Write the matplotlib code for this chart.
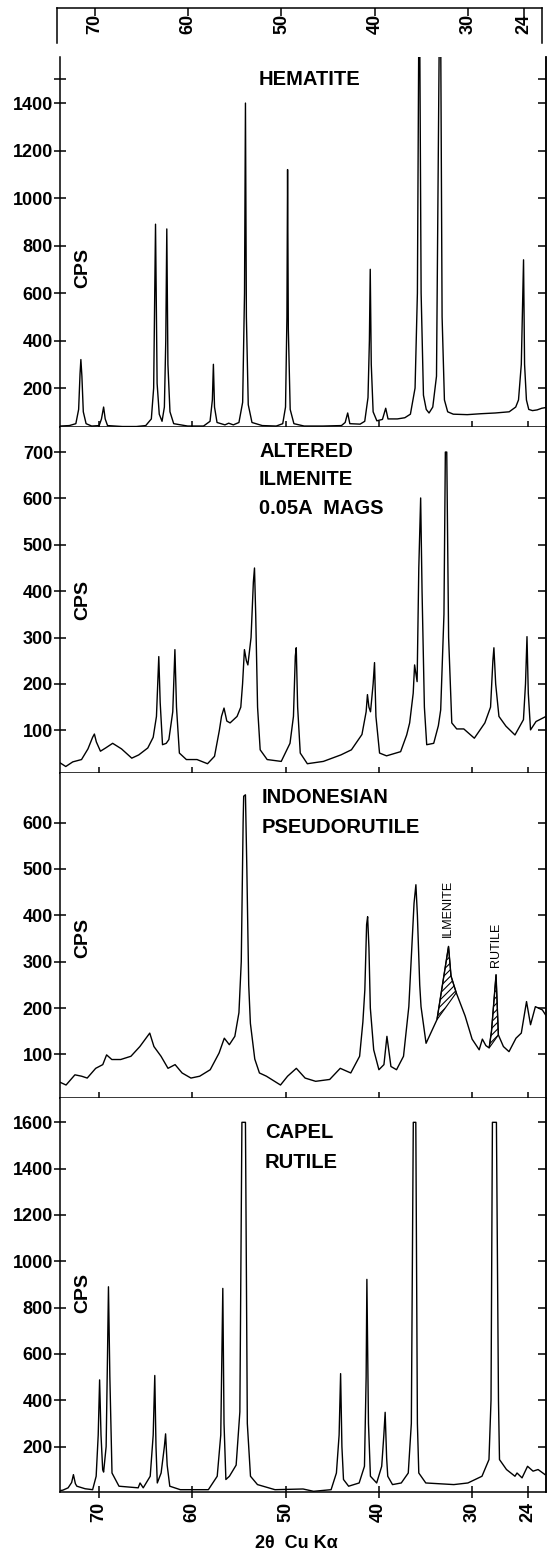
import matplotlib
matplotlib.use('Agg')
import matplotlib.pyplot as plt
import numpy as np

plt.rcParams['font.family'] = ['Liberation Sans', 'DejaVu Sans']
plt.rcParams['font.weight'] = 'bold'
plt.rcParams['hatch.linewidth'] = 0.8

# ---------------- data (2-theta, CPS) ----------------
hem_2theta = [74.2, 73.2, 72.5, 72.2, 72.05, 71.96, 71.85, 71.7, 71.4, 70.8, 70.0, 69.75, 69.52, 69.35, 69.1,
              67.5, 66.0, 65.0, 64.4, 64.15, 63.95, 63.78, 63.55, 63.25, 63.0, 62.85, 62.74, 62.62, 62.4, 62.0,
              60.5, 58.8, 58.1, 57.85, 57.74, 57.62, 57.35, 56.5, 56.1, 55.6, 55.0, 54.6, 54.4, 54.3, 54.2,
              54.0, 53.6, 52.5, 51.0, 50.3, 50.0, 49.85, 49.78, 49.7, 49.5, 49.1, 48.0, 46.0, 44.0, 43.6,
              43.33, 43.1, 42.0, 41.5, 41.15, 41.0, 40.91, 40.8, 40.6, 40.2, 39.6, 39.25, 39.0, 38.0, 37.2,
              36.6, 36.1, 35.85, 35.7, 35.6, 35.45, 35.2, 34.9, 34.6, 34.2, 33.8, 33.5, 33.35, 33.2, 32.95,
              32.6, 32.0, 30.5, 29.0, 27.5, 26.0, 25.3, 25.0, 24.7, 24.46, 24.35, 24.15, 23.9, 23.5, 23.0,
              22.5, 22.05]
hem_cps = [40, 42, 50, 110, 260, 320, 250, 100, 50, 40, 42, 70, 120, 70, 42,
           38, 38, 42, 70, 200, 890, 220, 90, 60, 120, 400, 870, 300, 100, 50,
           40, 40, 60, 150, 300, 120, 55, 45, 52, 45, 55, 140, 600, 1400, 500,
           130, 55, 42, 40, 50, 120, 500, 1120, 450, 110, 50, 40, 40, 42, 55,
           95, 50, 48, 60, 160, 400, 700, 300, 100, 62, 68, 115, 70, 70, 75,
           90, 200, 600, 1700, 1700, 600, 170, 110, 95, 120, 250, 1700, 1700, 500, 150,
           100, 90, 88, 92, 95, 100, 120, 150, 300, 740, 300, 150, 110, 105, 108,
           115, 118]

alt_2theta = [74.2, 73.58, 72.83, 71.89, 71.2, 70.7, 70.51, 70.3, 69.86, 69.3, 68.55, 67.6, 66.5, 65.75,
              64.78, 64.2, 63.85, 63.6, 63.45, 63.2, 62.8, 62.52, 62.1, 61.87, 61.7, 61.39, 60.64, 59.5,
              58.37, 57.62, 57.1, 56.87, 56.6, 56.3, 55.95, 55.2, 54.8, 54.61, 54.41, 54.2, 54.04, 53.7,
              53.45, 53.33, 53.2, 53.0, 52.72, 51.97, 50.46, 49.52, 49.15, 48.95, 48.85, 48.7, 48.42,
              47.66, 45.94, 44.06, 42.93, 41.8, 41.35, 41.21, 41.05, 40.88, 40.6, 40.45, 40.3, 39.91,
              39.16, 37.65, 37.0, 36.68, 36.3, 36.15, 35.88, 35.7, 35.5, 35.35, 35.1, 34.85, 34.1, 33.6,
              33.35, 33.0, 32.85, 32.7, 32.5, 32.16, 31.63, 30.87, 29.74, 28.61, 28.0, 27.75, 27.64,
              27.45, 27.1, 26.35, 25.38, 24.47, 24.25, 24.09, 23.95, 23.71, 23.12, 22.05]
alt_cps = [30, 22, 32, 37, 60, 85, 92, 75, 55, 62, 72, 60, 40, 47,
           62, 85, 130, 259, 160, 69, 72, 80, 140, 274, 150, 51, 37, 37,
           28, 44, 100, 130, 148, 120, 116, 130, 150, 200, 274, 250, 241, 300,
           420, 450, 350, 150, 58, 37, 33, 72, 130, 260, 278, 150, 51,
           28, 33, 47, 58, 91, 140, 177, 150, 140, 200, 246, 130, 51,
           45, 54, 90, 116, 180, 241, 205, 450, 601, 400, 150, 69, 72, 110,
           144, 350, 700, 700, 300, 116, 103, 103, 83, 116, 150, 250, 278,
           200, 130, 109, 90, 123, 200, 302, 180, 101, 119, 130]

ind_2theta = [74.2, 73.55, 72.6, 71.88, 71.28, 70.37, 69.61, 69.2, 68.64, 67.69, 66.59, 65.63, 64.57,
              64.12, 63.36, 62.61, 61.85, 61.1, 60.15, 59.21, 58.08, 57.13, 56.57, 56.03, 55.44, 55.0,
              54.75, 54.55, 54.49, 54.3, 54.15, 53.95, 53.77, 53.3, 52.8, 52.05, 50.54, 49.78, 48.84,
              47.9, 46.77, 45.26, 44.13, 43.0, 42.05, 41.7, 41.49, 41.3, 41.19, 41.05, 40.9, 40.54,
              39.98, 39.44, 39.12, 38.69, 38.09, 37.34, 36.77, 36.4, 36.21, 36.01, 35.85, 35.6, 35.46,
              34.92, 33.75, 32.51, 32.24, 31.68, 30.73, 29.98, 29.22, 28.88, 28.5, 28.15, 27.9, 27.41,
              27.16, 26.62, 26.02, 25.27, 24.7, 24.14, 23.71, 23.19, 22.44, 22.09]
ind_cps = [40, 34, 56, 53, 49, 70, 78, 99, 89, 89, 96, 117, 146,
           117, 96, 70, 78, 60, 49, 53, 67, 103, 135, 121, 139, 190,
           300, 600, 657, 660, 500, 250, 167, 90, 60, 53, 34, 53, 70,
           49, 42, 46, 70, 60, 96, 170, 239, 380, 397, 330, 200, 110,
           67, 78, 139, 74, 67, 96, 203, 350, 426, 466, 400, 250, 203,
           124, 175, 333, 269, 233, 183, 133, 110, 133, 119, 114, 150, 272,
           142, 117, 106, 135, 146, 214, 164, 203, 196, 185]

# hatched regions (2-theta ranges) on the pseudorutile pattern
hatch_ranges = [(33.75, 31.68), (28.15, 27.16)]
hatch_names = ['ILMENITE', 'RUTILE']
hatch_label_pos = [(32.55, 353), (27.42, 289)]

cap_2theta = [74.2, 73.89, 73.33, 72.95, 72.76, 72.55, 72.39, 71.5, 70.7, 70.32, 70.1, 69.95, 69.8, 69.62,
              69.52, 69.25, 69.1, 69.0, 68.85, 68.62, 67.87, 65.81, 65.61, 65.27, 64.52, 64.2, 64.03,
              63.9, 63.76, 63.35, 63.0, 62.87, 62.7, 62.42, 61.29, 58.28, 57.33, 56.95, 56.73, 56.6,
              56.4, 56.02, 55.3, 54.9, 54.68, 54.3, 54.1, 53.76, 53.01, 51.13, 48.12, 46.99, 45.11,
              44.54, 44.25, 44.09, 43.95, 43.78, 43.23, 42.1, 41.53, 41.35, 41.27, 41.1, 40.89, 40.22,
              39.68, 39.45, 39.31, 39.15, 39.03, 38.52, 37.58, 36.83, 36.5, 36.29, 36.02, 35.85, 35.7,
              34.95, 31.94, 30.43, 28.92, 28.17, 27.95, 27.8, 27.37, 27.15, 27.04, 26.29, 25.38, 25.16,
              24.62, 24.03, 23.44, 22.9, 22.15]
cap_cps = [10, 12, 22, 45, 79, 40, 29, 18, 14, 72, 250, 488, 250, 100,
           90, 200, 600, 890, 500, 86, 29, 22, 43, 22, 72, 250, 507,
           200, 43, 86, 200, 255, 120, 29, 14, 14, 72, 250, 883, 300,
           58, 72, 120, 350, 1600, 1600, 300, 72, 36, 14, 17, 7, 14,
           86, 250, 515, 200, 58, 29, 43, 115, 500, 922, 300, 72, 43,
           115, 250, 348, 150, 72, 36, 43, 86, 300, 1600, 1600, 300, 86,
           43, 36, 43, 72, 144, 400, 1600, 1600, 400, 144, 101, 72, 86,
           65, 115, 94, 101, 79]

titles = ['HEMATITE', 'ALTERED\nILMENITE\n0.05A  MAGS', 'INDONESIAN\nPSEUDORUTILE', 'CAPEL\nRUTILE']
hem_yticks = [200, 400, 600, 800, 1000, 1200, 1400, 1500]
hem_ylabels = ['200', '400', '600', '800', '1000', '1200', '1400', '']
alt_yticks = [100, 200, 300, 400, 500, 600, 700]
ind_yticks = [100, 200, 300, 400, 500, 600]
cap_yticks = [200, 400, 600, 800, 1000, 1200, 1400, 1600]
x_ticks = [70, 60, 50, 40, 30, 24]
x_ticklabels = ['70', '60', '50', '40', '30', '24']

# ---------------- layout ----------------
W, H = 549, 1553
fig = plt.figure(figsize=(W / 100, H / 100), dpi=100)


def rect(left, top, right, bottom):
    return [left / W, 1 - bottom / H, (right - left) / W, (bottom - top) / H]


XLIM = (74.2, 22.05)
LW = 1.0
FS = 13

panels = [
    dict(x=hem_2theta, y=hem_cps, top=57, bottom=427, ylim=(36, 1594), yt=hem_yticks, yl=hem_ylabels,
         title=titles[0], tpos=(0.4095, 0.938), ls=1.2, cps=0.43),
    dict(x=alt_2theta, y=alt_cps, top=427, bottom=773, ylim=(8, 754), yt=alt_yticks,
         yl=[str(v) for v in alt_yticks], title=titles[1], tpos=(0.4095, 0.847), ls=1.62, cps=0.5),
    dict(x=ind_2theta, y=ind_cps, top=773, bottom=1098, ylim=(6, 707), yt=ind_yticks,
         yl=[str(v) for v in ind_yticks], title=titles[2], tpos=(0.4156, 0.8785), ls=1.75, cps=0.492),
    dict(x=cap_2theta, y=cap_cps, top=1098, bottom=1492, ylim=(4, 1705), yt=cap_yticks,
         yl=[str(v) for v in cap_yticks], title=titles[3], tpos=(0.4218, 0.874), ls=1.75, cps=0.505),
]

axes = []
for i, p in enumerate(panels):
    ax = fig.add_axes(rect(60, p['top'], 546, p['bottom']))
    ax.plot(p['x'], p['y'], color='black', lw=LW, solid_joinstyle='round')
    ax.set_xlim(*XLIM)
    ax.set_ylim(*p['ylim'])
    ax.spines['top'].set_visible(False)
    for s in ('left', 'right', 'bottom'):
        ax.spines[s].set_linewidth(1.1)
    ax.set_xticks(x_ticks)
    last = (i == len(panels) - 1)
    if last:
        ax.set_xticklabels(x_ticklabels, rotation=90, fontsize=FS, fontweight='bold')
    ax.tick_params(axis='x', direction='inout', length=8, width=1.1, top=False, bottom=True,
                   labelbottom=last, pad=3)
    ax.set_yticks(p['yt'])
    ax.set_yticklabels(p['yl'], fontsize=FS, fontweight='bold')
    ax.tick_params(axis='y', direction='inout', length=8, width=1.1, left=True, right=False, pad=1)
    sec = ax.secondary_yaxis('right')
    sec.set_yticks(p['yt'])
    sec.tick_params(direction='in', length=6, width=1.1, labelright=False)
    sec.spines['right'].set_linewidth(1.1)
    ax.text(p['tpos'][0], p['tpos'][1], p['title'], transform=ax.transAxes, ha='left', va='center',
            fontsize=14.5, fontweight='bold', linespacing=p['ls'])
    ax.text(0.047, p['cps'], 'CPS', transform=ax.transAxes, rotation=90, ha='center', va='center',
            fontsize=14, fontweight='bold')
    axes.append(ax)

# hatched areas on pseudorutile
ax3 = axes[2]
xs = np.array(ind_2theta)
ys = np.array(ind_cps)
for (a, b), name, (lx, ly) in zip(hatch_ranges, hatch_names, hatch_label_pos):
    m = (xs <= a) & (xs >= b)
    ax3.fill(xs[m], ys[m], facecolor='none', edgecolor='black', hatch='/////', lw=0.8)
    ax3.text(lx, ly, name, rotation=90, ha='center', va='bottom', fontsize=9, fontweight='normal')

# top scale strip
axt = fig.add_axes(rect(57, 8, 542, 43))
axt.set_xlim(74.07, 22.07)
axt.set_ylim(0, 1)
axt.set_yticks([])
axt.spines['bottom'].set_visible(False)
for s in ('left', 'right', 'top'):
    axt.spines[s].set_linewidth(1.1)
axt.set_xticks(x_ticks)
axt.set_xticklabels(x_ticklabels, rotation=90, fontsize=FS, fontweight='bold')
axt.tick_params(axis='x', direction='in', length=6, width=1.1, top=True, bottom=False,
                labeltop=False, labelbottom=True, pad=-21)

fig.text(296 / W, 1 - 1543 / H, '2θ  Cu Kα', ha='center', va='center', fontsize=13, fontweight='bold')

fig.savefig('out.png', dpi=100)
